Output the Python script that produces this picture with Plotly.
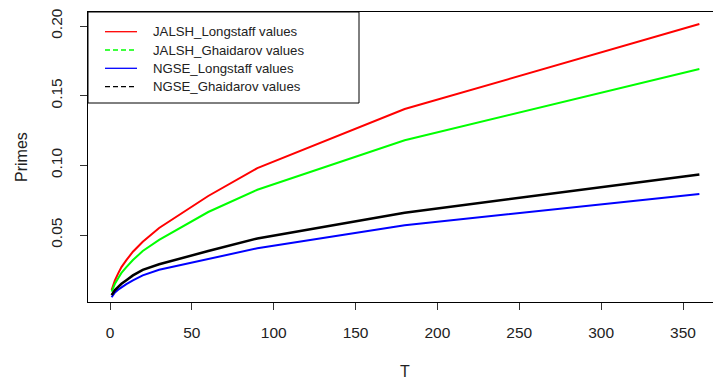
import plotly.graph_objects as go

# Data
T = [1, 2, 3, 5, 7, 10, 14, 20, 30, 60, 90, 180, 360]
jalsh_longstaff = [0.0105, 0.0145, 0.0175, 0.0225, 0.027, 0.032, 0.038, 0.0452, 0.055, 0.078, 0.098, 0.1404, 0.2014]
jalsh_ghaidarov = [0.0093, 0.0125, 0.015, 0.019, 0.0228, 0.027, 0.032, 0.0385, 0.0465, 0.0665, 0.0825, 0.118, 0.1691]
ngse_longstaff = [0.0053, 0.0075, 0.0088, 0.0108, 0.0125, 0.0148, 0.0175, 0.021, 0.025, 0.0328, 0.0405, 0.057, 0.0794]
ngse_ghaidarov = [0.0068, 0.009, 0.0105, 0.0128, 0.015, 0.0175, 0.021, 0.025, 0.029, 0.0385, 0.0475, 0.066, 0.0935]

series_names = ["JALSH_Longstaff values", "JALSH_Ghaidarov values",
                "NGSE_Longstaff values", "NGSE_Ghaidarov values"]
series_colors = ["#ff0000", "#00ff00", "#0000ff", "#000000"]
series_dash = ["solid", "5px,3px", "solid", "5px,3px"]
series_values = [jalsh_longstaff, jalsh_ghaidarov, ngse_longstaff, ngse_ghaidarov]
series_widths = [2, 2, 2, 2.5]

x_ticks = [0, 50, 100, 150, 200, 250, 300, 350]
y_ticks = [0.05, 0.10, 0.15, 0.20]
y_tick_labels = ["0.05", "0.10", "0.15", "0.20"]

W, H = 713, 380
L, R_, TOP, B = 88, 0, 12, 78
pw, ph = W - L - R_, H - TOP - B

def px2x(px):
    return (px - L) / pw

def py2y(py):
    return (H - B - py) / ph

FONT = "Liberation Sans, Arial, sans-serif"

fig = go.Figure()
for i in range(4):
    fig.add_trace(go.Scatter(
        x=T, y=series_values[i], mode="lines", name=series_names[i],
        line=dict(color=series_colors[i], width=series_widths[i]),
        showlegend=False, hoverinfo="skip"))

shapes = []
annotations = []
# legend box
shapes.append(dict(type="rect", xref="paper", yref="paper",
                   x0=0, x1=px2x(359), y0=py2y(103), y1=1,
                   line=dict(color="black", width=1), fillcolor="white", layer="above"))
rows = [31.7, 50.0, 68.3, 86.7]
for i, yy in enumerate(rows):
    shapes.append(dict(type="line", xref="paper", yref="paper",
                       x0=px2x(105), x1=px2x(137), y0=py2y(yy), y1=py2y(yy),
                       line=dict(color=series_colors[i], width=1.3, dash=series_dash[i]),
                       layer="above"))
    annotations.append(dict(xref="paper", yref="paper", x=px2x(151), y=py2y(yy),
                            text=series_names[i], showarrow=False, xanchor="left",
                            yanchor="middle", font=dict(family=FONT, size=13.2, color="#222")))

# axis titles
annotations.append(dict(xref="paper", yref="paper", x=px2x(405), y=py2y(371),
                        text="T", showarrow=False, xanchor="center", yanchor="middle",
                        font=dict(family=FONT, size=16, color="#222")))
annotations.append(dict(xref="paper", yref="paper", x=px2x(21), y=py2y(157),
                        text="Primes", showarrow=False, textangle=-90,
                        xanchor="center", yanchor="middle",
                        font=dict(family=FONT, size=16, color="#222")))

# x: tick 0 at px 110, 350 at px 683
ppu = (683 - 110) / 350.0
x0 = (L - 110) / ppu
x1 = (W - 110) / ppu
# y: 0.05 at py 235, 0.20 at py 26
ppv = (235 - 26) / 0.15
y0 = 0.05 - (H - B - 235) / ppv
y1 = 0.20 + (26 - TOP) / ppv

fig.update_layout(
    width=W, height=H,
    margin=dict(l=L, r=R_, t=TOP, b=B, pad=0),
    paper_bgcolor="white", plot_bgcolor="white",
    shapes=shapes, annotations=annotations,
    showlegend=False,
    xaxis=dict(range=[x0, x1], tickmode="array", tickvals=x_ticks,
               ticks="outside", ticklen=7, tickcolor="#333", tickwidth=1,
               showline=True, linecolor="black", linewidth=1, mirror=True,
               showgrid=False, zeroline=False, ticklabelstandoff=9,
               tickfont=dict(family=FONT, size=15.5, color="#222")),
    yaxis=dict(range=[y0, y1], tickmode="array", tickvals=y_ticks,
               ticktext=y_tick_labels, tickangle=-90,
               ticks="outside", ticklen=7, tickcolor="#333", tickwidth=1,
               showline=True, linecolor="black", linewidth=1,
               showgrid=False, zeroline=False, ticklabelstandoff=12,
               tickfont=dict(family=FONT, size=15.5, color="#222")),
)

fig.write_html("out.html")
